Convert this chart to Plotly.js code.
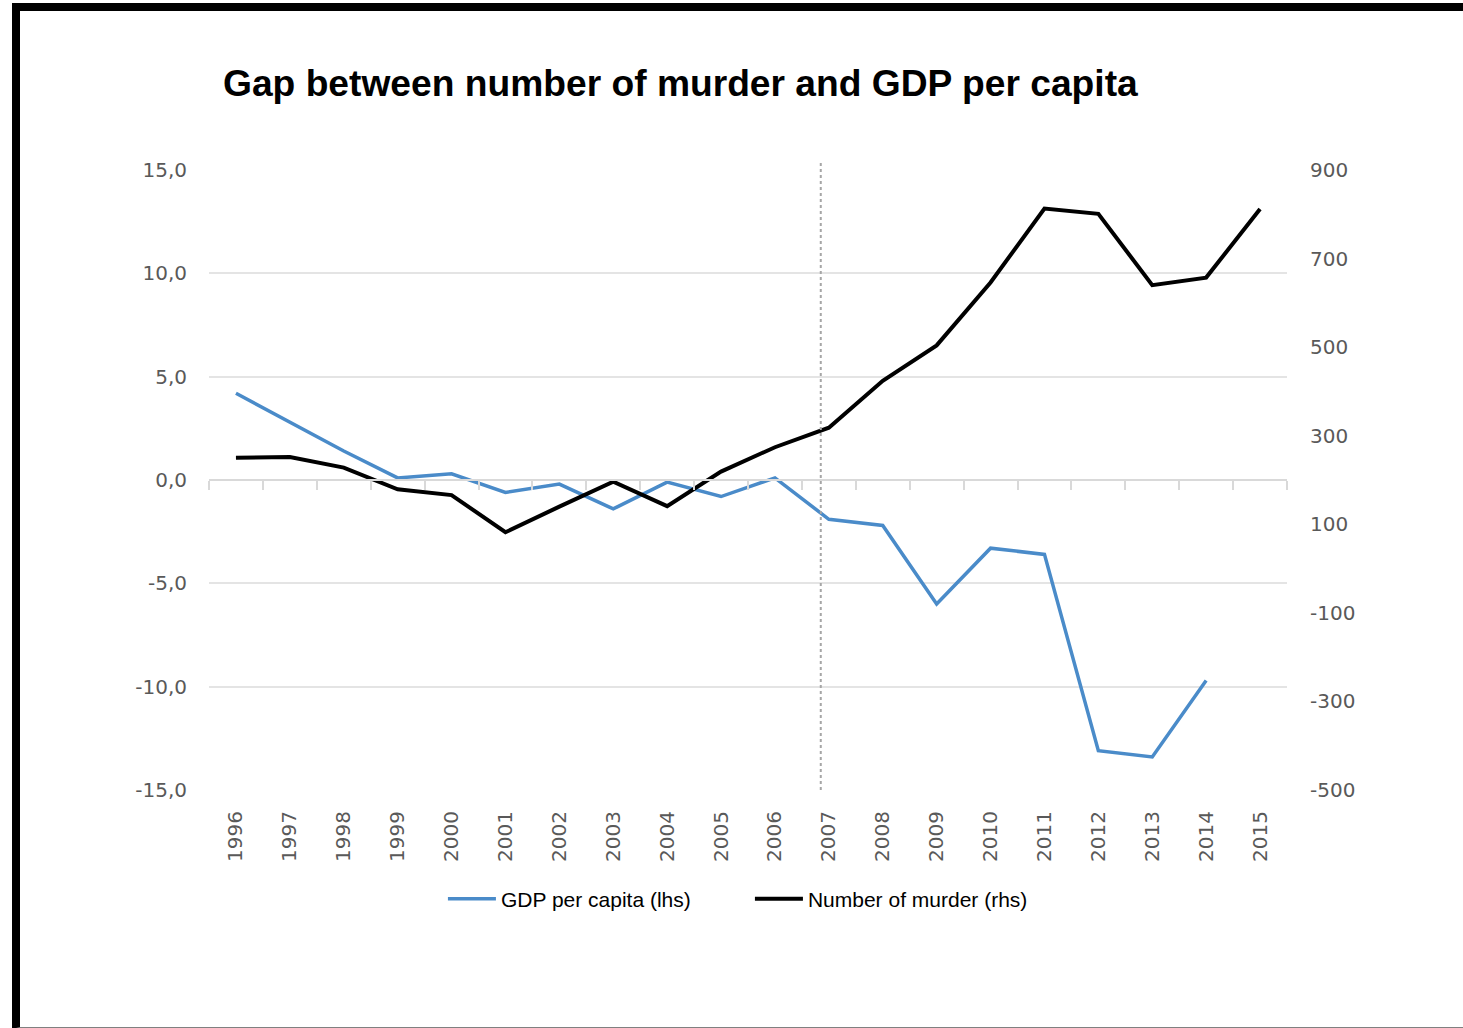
<!DOCTYPE html>
<html>
<head>
<meta charset="utf-8">
<script src="https://cdn.plot.ly/plotly-3.0.1.min.js"></script>
<style>
  html, body { margin: 0; padding: 0; background: #ffffff; }
  #wrap { position: relative; width: 1463px; height: 1028px; overflow: hidden; }
  #chart { position: absolute; left: 0; top: 0; width: 1463px; height: 1028px; }
  #frame { position: absolute; left: 12px; top: 3px; width: 1460px; height: 1016px;
           border-left: 8px solid #000; border-top: 8px solid #000; border-bottom: 2px solid #808080;
           pointer-events: none; }
</style>
</head>
<body>
<div id="wrap">
  <div id="chart"></div>
  <div id="frame"></div>
</div>
<script>
// ---- data ----
const years = ['1996','1997','1998','1999','2000','2001','2002','2003','2004','2005',
               '2006','2007','2008','2009','2010','2011','2012','2013','2014','2015'];
const gdpPerCapita = [4.2, 2.8, 1.4, 0.1, 0.3, -0.6, -0.2, -1.4, -0.1, -0.8,
                      0.1, -1.9, -2.2, -6.0, -3.3, -3.6, -13.1, -13.4, -9.7, null];
const numberOfMurder = [250, 252, 228, 179, 166, 82, 140, 196, 141, 219,
                        274, 318, 424, 504, 646, 813, 801, 640, 657, 812];
const leftTickVals = [15, 10, 5, 0, -5, -10, -15];
const leftTickText = ['15,0', '10,0', '5,0', '0,0', '-5,0', '-10,0', '-15,0'];
const rightTickVals = [900, 700, 500, 300, 100, -100, -300, -500];
const rightTickText = ['900', '700', '500', '300', '100', '-100', '-300', '-500'];
const markerYear = '2007';
const titleText = 'Gap between number of murder and GDP per capita';
const gdpName = 'GDP per capita (lhs)';
const murderName = 'Number of murder (rhs)';

const tickFont = { family: 'DejaVu Sans', size: 20, color: '#595959' };
const catRange = [-0.5, years.length - 0.5];

const traces = [
  {
    x: years, y: gdpPerCapita, name: gdpName, type: 'scatter', mode: 'lines',
    xaxis: 'x', yaxis: 'y',
    line: { color: '#4a8bc9', width: 3.5 },
    connectgaps: false, hoverinfo: 'x+y'
  },
  {
    x: years, y: numberOfMurder, name: murderName, type: 'scatter', mode: 'lines',
    xaxis: 'x2', yaxis: 'y2',
    line: { color: '#000000', width: 4 },
    hoverinfo: 'x+y'
  }
];

const layout = {
  width: 1463, height: 1028,
  paper_bgcolor: 'rgba(0,0,0,0)', plot_bgcolor: 'rgba(0,0,0,0)',
  margin: { l: 209, r: 176, t: 170, b: 238, pad: 0 },
  font: { family: 'Liberation Sans', color: '#000' },
  title: {
    text: '<b>' + titleText + '</b>',
    font: { family: 'Liberation Sans', size: 37.2, color: '#000' },
    xref: 'container', x: 223 / 1463, xanchor: 'left',
    yref: 'container', y: 1 - 83 / 1028, yanchor: 'middle'
  },
  showlegend: true,
  legend: {
    orientation: 'h', x: 0.217, xanchor: 'left', y: -0.176, yanchor: 'middle',
    font: { family: 'Liberation Sans', size: 21, color: '#000' },
    entrywidth: 244, entrywidthmode: 'pixels',
    bgcolor: 'rgba(0,0,0,0)', itemwidth: 48
  },
  xaxis: {
    type: 'category', categoryorder: 'array', categoryarray: years, range: catRange,
    anchor: 'free', position: 0.5,
    showline: true, linecolor: '#d9d9d9', linewidth: 2,
    ticks: 'outside', ticklen: 9, tickwidth: 2, tickcolor: '#d9d9d9', tickson: 'boundaries',
    showticklabels: false, showgrid: false, zeroline: false, fixedrange: true
  },
  xaxis2: {
    type: 'category', categoryorder: 'array', categoryarray: years, range: catRange,
    overlaying: 'x', anchor: 'y2', side: 'bottom',
    showline: false, ticks: '', showgrid: false, zeroline: false,
    tickangle: -90, tickfont: tickFont, ticklabelstandoff: 16, fixedrange: true
  },
  yaxis: {
    range: [-15, 15], tickvals: leftTickVals, ticktext: leftTickText,
    tickfont: tickFont, ticks: '', ticklabelstandoff: 21,
    showgrid: true, gridcolor: '#e4e4e4', gridwidth: 2,
    zeroline: false, showline: false, fixedrange: true
  },
  yaxis2: {
    range: [-500, 900], tickvals: rightTickVals, ticktext: rightTickText,
    overlaying: 'y', side: 'right', anchor: 'x2',
    tickfont: tickFont, ticks: '', ticklabelstandoff: 22,
    showgrid: false, zeroline: false, showline: false, fixedrange: true
  },
  shapes: [
    {
      // dotted marker drawn just left of the 2007 category centre, as in the reference
      type: 'line', xref: 'x', yref: 'paper',
      x0: years.indexOf(markerYear) - 0.15, x1: years.indexOf(markerYear) - 0.15,
      y0: 0, y1: 1.016,
      line: { color: '#a6a6a6', width: 2, dash: 'dot' }
    }
  ]
};

Plotly.newPlot('chart', traces, layout, { displayModeBar: false, staticPlot: true });
</script>
</body>
</html>
